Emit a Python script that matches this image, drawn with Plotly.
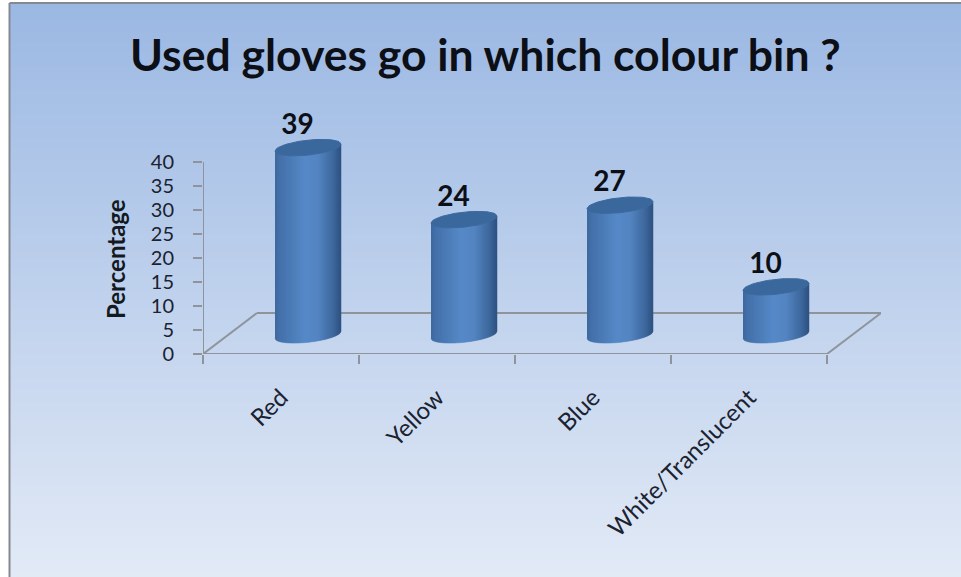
import numpy as np
import plotly.graph_objects as go

title = "Used gloves go in which colour bin ?"
y_title = "Percentage"
categories = ["Red", "Yellow", "Blue", "White/Translucent"]
values = [39, 24, 27, 10]
y_ticks = [0, 5, 10, 15, 20, 25, 30, 35, 40]

W, H = 961, 577
FONT = "Lato"
TXT = "#1b2230"
GREY = "#8f949c"
AX_L, AX_R, AX_T, AX_B = 203, 881, 66, 354
PX_X, PX_Y = 156.0, 4.8            # pixels per category / per percentage unit
X0_PX = 308.0                      # pixel of the first cylinder
DEPTH_X, DEPTH_Y = 27.0, 4.0       # half-depth shift of the 3D floor (px, units)
HALF_W = 33.0 / PX_X
ELL_B = 7.5 / PX_Y
TILT = 3.5 / PX_Y                  # rise of an ellipse from centre to right edge
N_STRIPS = 66

stops = [(0.0, (62, 105, 158)), (0.07, (68, 113, 170)), (0.45, (86, 137, 200)),
         (0.65, (84, 133, 194)), (0.88, (62, 104, 158)), (1.0, (46, 82, 128))]


def shade(t):
    ts = [s[0] for s in stops]
    return "rgb(%d,%d,%d)" % tuple(np.interp(t, ts, [s[1][k] for s in stops]) for k in range(3))


def rim(u, centre, sign):
    return centre + TILT * u + sign * ELL_B * np.sqrt(np.clip(1 - u * u, 0, 1))


fig = go.Figure()
edges = np.linspace(-1, 1, N_STRIPS + 1)
for s in range(N_STRIPS):
    sub = np.linspace(edges[s], edges[s + 1], 3)
    xs, ys = [], []
    for i, v in enumerate(values):
        xs += list(i + sub * HALF_W) + list(i + sub[::-1] * HALF_W) + [None]
        ys += list(rim(sub, DEPTH_Y, -1)) + list(rim(sub[::-1], DEPTH_Y + v, 0)) + [None]
    col = shade((s + 0.5) / N_STRIPS)
    fig.add_trace(go.Scatter(x=xs, y=ys, mode="lines", fill="toself", fillcolor=col,
                             line=dict(color=col, width=0.5), hoverinfo="skip", showlegend=False))

# cylinder tops
u = np.linspace(-1, 1, 41)
tx, ty = [], []
for i, v in enumerate(values):
    tx += list(i + u * HALF_W) + list(i + u[::-1] * HALF_W) + [None]
    ty += list(rim(u, DEPTH_Y + v, 1)) + list(rim(u[::-1], DEPTH_Y + v, -1)) + [None]
fig.add_trace(go.Scatter(x=tx, y=ty, mode="lines", fill="toself", fillcolor="#3a689d",
                         line=dict(color="#3b6aa1", width=1), hoverinfo="skip", showlegend=False))

# value labels
fig.add_trace(go.Scatter(
    x=[i - 10.5 / PX_X for i in range(len(values))],
    y=[DEPTH_Y + v + 21 / PX_Y for v in values],
    mode="text", text=[str(v) for v in values], textposition="middle center",
    textfont=dict(family=FONT, size=28, color="#0c0f16", weight="bold"),
    hoverinfo="skip", showlegend=False))

# gradient background and frame
shapes = []
BG_T, BG_B = 3, H + 6
top, bottom = (155, 184, 227), (226, 234, 246)
for py in range(BG_T, BG_B, 3):
    t = (py - BG_T) / (H - BG_T)
    c = "rgb(%d,%d,%d)" % tuple(round(a + (b - a) * t) for a, b in zip(top, bottom))
    shapes.append(dict(type="rect", xref="paper", yref="paper", layer="below",
                       x0=(10 - AX_L) / (AX_R - AX_L), x1=(W - AX_L) / (AX_R - AX_L),
                       y0=(AX_B - py) / (AX_B - AX_T), y1=(AX_B - py - 4) / (AX_B - AX_T),
                       fillcolor=c, line=dict(width=0)))
fy = lambda py: (AX_B - py) / (AX_B - AX_T)
fx = lambda px: (px - AX_L) / (AX_R - AX_L)
for x0, y0, x1, y1 in [(9.5, 3, 9.5, H + 6), (9.5, 3, W, 3)]:
    shapes.append(dict(type="line", xref="paper", yref="paper", layer="below",
                       x0=fx(x0), y0=fy(y0), x1=fx(x1), y1=fy(y1),
                       line=dict(color="#85898f", width=2)))

# 3D floor and value axis
back = (AX_B - 313) / PX_Y
dx = lambda px: (px - X0_PX) / PX_X
floor = [(203, 0, 827, 0), (203, 0, 257, back), (257, back, 881, back), (827, 0, 881, back)]
for x0, y0, x1, y1 in floor:
    shapes.append(dict(type="line", xref="x", yref="y", layer="below",
                       x0=dx(x0), y0=y0, x1=dx(x1), y1=y1, line=dict(color=GREY, width=2)))
shapes.append(dict(type="line", xref="x", yref="y", layer="below",
                   x0=dx(203), y0=0, x1=dx(203), y1=max(y_ticks), line=dict(color=GREY, width=2)))

annotations = [
    dict(text=title, xref="paper", yref="paper", x=fx(485), y=fy(54), showarrow=False,
         xanchor="center", yanchor="middle",
         font=dict(family=FONT, size=44.5, color="#0c0f16", weight="bold")),
    dict(text=y_title, xref="paper", yref="paper", x=fx(115), y=fy(259), showarrow=False,
         textangle=-90, xanchor="center", yanchor="middle",
         font=dict(family=FONT, size=24, color="#14181f", weight="bold")),
]

fig.update_layout(
    width=W, height=H, autosize=False,
    margin=dict(l=AX_L, r=W - AX_R, t=AX_T, b=H - AX_B, pad=0),
    paper_bgcolor="white", plot_bgcolor="rgba(0,0,0,0)",
    showlegend=False, shapes=shapes, annotations=annotations,
    xaxis=dict(
        range=[dx(AX_L), dx(AX_R)], showgrid=False, zeroline=False, showline=False,
        tickmode="array", tickvals=[i - DEPTH_X / PX_X for i in range(len(categories))],
        ticktext=categories, tickangle=-45, ticks="outside", ticklen=0,
        ticklabelstandoff=19, tickfont=dict(family=FONT, size=24, color=TXT),
        minor=dict(tickmode="array", tickvals=[dx(203 + PX_X * k) for k in range(len(categories) + 1)],
                   ticks="outside", ticklen=9, tickwidth=2, tickcolor=GREY, showgrid=False),
    ),
    yaxis=dict(
        range=[0, (AX_B - AX_T) / PX_Y], showgrid=False, zeroline=False, showline=False,
        tickmode="array", tickvals=y_ticks, ticktext=[str(t) for t in y_ticks],
        ticks="outside", ticklen=9, tickwidth=2, tickcolor=GREY,
        ticklabelstandoff=15, tickfont=dict(family=FONT, size=20, color=TXT),
    ),
)

fig.write_html("out.html", config={"displayModeBar": False},
               post_script="document.body.style.margin='0';document.body.style.overflow='hidden';document.documentElement.style.background='#e2eaf6';document.body.style.background='#e2eaf6';")
